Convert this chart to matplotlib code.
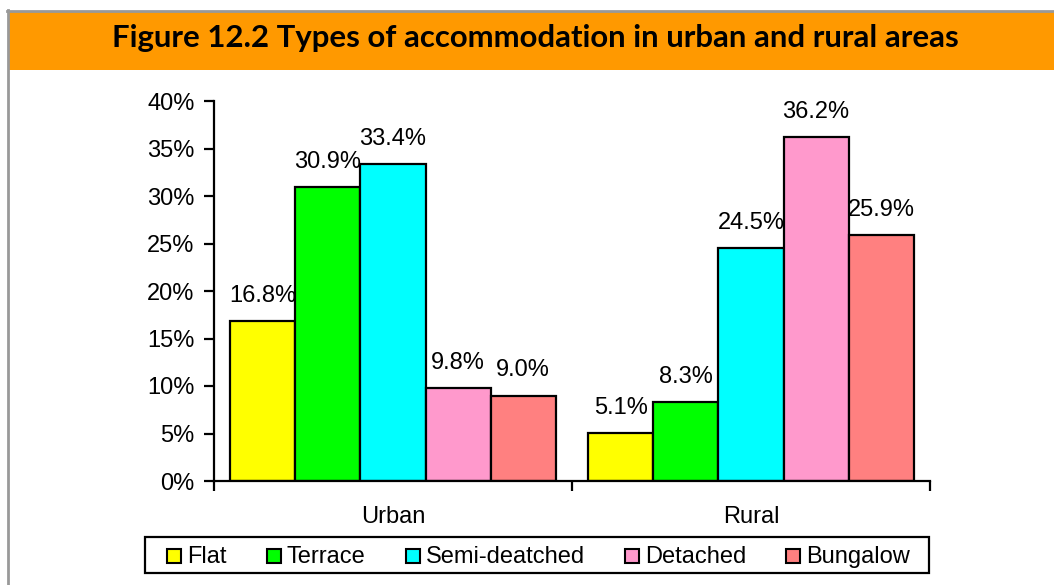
import matplotlib
matplotlib.use("Agg")
import matplotlib.pyplot as plt
from matplotlib.patches import Rectangle
from matplotlib.lines import Line2D
import numpy as np

# Data
areas = ["Urban", "Rural"]
types = ["Flat", "Terrace", "Semi-deatched", "Detached", "Bungalow"]
flat = [16.8, 5.1]
terrace = [30.9, 8.3]
semi_detached = [33.4, 24.5]
detached = [9.8, 36.2]
bungalow = [9.0, 25.9]
yticks = [0, 5, 10, 15, 20, 25, 30, 35, 40]

series = [flat, terrace, semi_detached, detached, bungalow]
colors = ["#FFFF00", "#00FF00", "#00FFFF", "#FF99CC", "#FF8080"]

plt.rcParams["font.family"] = ["Liberation Sans", "DejaVu Sans"]
FS = 17

W, H = 1054, 585
fig = plt.figure(figsize=(W / 100, H / 100), dpi=100)

def fx(px):
    return px / W

def fy(py):
    return 1 - py / H

# Page frame and header band
fig.add_artist(Rectangle((fx(9), fy(69.5)), fx(W - 9), fy(12) - fy(69.5),
                         transform=fig.transFigure, facecolor="#FF9900",
                         edgecolor="none", zorder=0))
fig.add_artist(Line2D([fx(7), fx(W)], [fy(11), fy(11)], transform=fig.transFigure,
                      color="#999999", lw=2))
fig.add_artist(Line2D([fx(8), fx(8)], [fy(10), fy(H)], transform=fig.transFigure,
                      color="#999999", lw=2))
fig.text(fx(535), fy(38), "Figure 12.2 Types of accommodation in urban and rural areas",
         ha="center", va="center", fontsize=22.4, fontweight="bold",
         family=["Lato", "DejaVu Sans"], color="black")

# Chart area
ax = fig.add_axes([fx(214), fy(481), fx(930) - fx(214), fy(101) - fy(481)])
x = np.arange(len(areas))
bw = 1 / 5.5
for i, (vals, col, name) in enumerate(zip(series, colors, types)):
    pos = x + (i - 2) * bw
    ax.bar(pos, vals, width=bw, color=col, edgecolor="black", linewidth=1.6,
           label=name, zorder=2)
    for p, v in zip(pos, vals):
        ax.annotate(f"{v:.1f}%", (p, v), xytext=(0, 18), textcoords="offset points",
                    ha="center", va="center", fontsize=FS)

ax.set_xlim(-0.5, 1.5)
ax.set_ylim(0, 40)
ax.set_yticks(yticks)
ax.set_yticklabels([f"{t}%" for t in yticks])
ax.set_xticks(x)
ax.set_xticklabels(areas)
ax.set_xticks([-0.5, 0.5, 1.5], minor=True)
ax.tick_params(axis="x", which="major", length=0, pad=18, labelsize=FS)
ax.tick_params(axis="x", which="minor", length=7, width=1.6, direction="out")
ax.tick_params(axis="y", length=7, width=1.6, direction="out", pad=7, labelsize=FS)
for s in ["top", "right"]:
    ax.spines[s].set_visible(False)
for s in ["left", "bottom"]:
    ax.spines[s].set_linewidth(1.6)

# Legend row: swatch, label, fixed gaps, all sharing one text baseline
renderer = fig.canvas.get_renderer()
sq, gap_txt, gap_col, pad_l, pad_r = 14, 6, 40, 22, 19
baseline_y = 563
texts, widths = [], []
for name in types:
    t = fig.text(0, fy(baseline_y), name, fontsize=FS, ha="left", va="baseline")
    texts.append(t)
    widths.append(t.get_window_extent(renderer).width)
inner = sum(sq + gap_txt + w for w in widths) + gap_col * (len(types) - 1)
total = pad_l + inner + pad_r
left = 537 - total / 2
fig.add_artist(Rectangle((fx(left), fy(573)), fx(total), fy(537) - fy(573),
                         transform=fig.transFigure, facecolor="white",
                         edgecolor="black", linewidth=1.6, zorder=1))
cur = left + pad_l
for t, w, col in zip(texts, widths, colors):
    fig.add_artist(Rectangle((fx(cur), fy(baseline_y)), fx(sq), fy(baseline_y - sq) - fy(baseline_y),
                             transform=fig.transFigure, facecolor=col,
                             edgecolor="black", linewidth=1.5, zorder=2))
    t.set_x(fx(cur + sq + gap_txt))
    t.set_zorder(3)
    cur += sq + gap_txt + w + gap_col

fig.savefig("out.png", dpi=100)
